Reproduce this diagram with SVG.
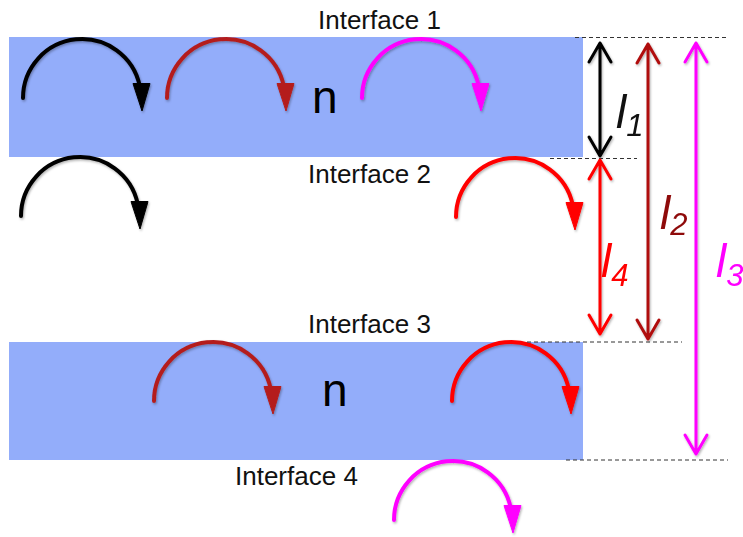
<svg xmlns="http://www.w3.org/2000/svg" xmlns:xlink="http://www.w3.org/1999/xlink" width="743" height="537" viewBox="0 0 743 537">
  <style>
    .slab { fill: #93adfa; }
    .iface { font-family: "Liberation Sans", Arial, sans-serif; font-size: 26px; fill: #111; }
    .n { font-family: "Liberation Sans", Arial, sans-serif; font-size: 46px; fill: #000; }
    .lab { font-family: "Liberation Sans", Arial, sans-serif; font-style: italic; font-size: 46px; }
    .sub { font-size: 31px; }
    .dash { stroke: #333; stroke-width: 1; stroke-dasharray: 4 3; fill: none; }
    .dim { stroke-width: 3; fill: none; stroke-linecap: round; stroke-linejoin: round; }
    .arcp { fill: none; stroke: currentColor; stroke-width: 4; stroke-linecap: round; }
    .arch { fill: currentColor; stroke: currentColor; stroke-width: 1; stroke-linejoin: round; }
  </style>
  <defs>
    <filter id="sh" x="-20%" y="-20%" width="140%" height="140%">
      <feDropShadow dx="1" dy="1.5" stdDeviation="1.2" flood-color="#000" flood-opacity="0.3"/>
    </filter>
    <g id="arc">
      <path class="arcp" d="M-59,0 A59,59 0 0 1 57.7,-12.3"/>
      <polygon class="arch" points="51,-14.5 68,-14.5 60,13"/>
    </g>
  </defs>
  <rect width="743" height="537" fill="#fff"/>

  <g id="slab-top"><rect class="slab" x="9" y="37" width="574" height="120"/></g>
  <g id="slab-bottom"><rect class="slab" x="9" y="342" width="574" height="118"/></g>

  <g id="interfaces">
    <text class="iface" x="318" y="29">Interface 1</text>
    <text class="iface" x="308" y="183">Interface 2</text>
    <text class="iface" x="308" y="333">Interface 3</text>
    <text class="iface" x="235" y="485">Interface 4</text>
  </g>

  <g id="index-labels">
    <text class="n" x="312" y="113">n</text>
    <text class="n" x="322" y="406">n</text>
  </g>

  <g id="arcs" filter="url(#sh)">
    <use xlink:href="#arc" transform="translate(82,98)" color="#000000"/>
    <use xlink:href="#arc" transform="translate(226,98)" color="#b41e1e"/>
    <use xlink:href="#arc" transform="translate(421,98)" color="#ff00ff"/>
    <use xlink:href="#arc" transform="translate(80,216)" color="#000000"/>
    <use xlink:href="#arc" transform="translate(515,217)" color="#ff0000"/>
    <use xlink:href="#arc" transform="translate(213,401)" color="#b41e1e"/>
    <use xlink:href="#arc" transform="translate(511,401)" color="#ff0000"/>
    <use xlink:href="#arc" transform="translate(453,520)" color="#ff00ff"/>
  </g>

  <g id="guides">
    <line class="dash" x1="575" y1="37.5" x2="728" y2="37.5"/>
    <line class="dash" x1="550" y1="158.5" x2="637" y2="158.5"/>
    <line class="dash" x1="527" y1="342" x2="682" y2="342"/>
    <line class="dash" x1="566" y1="460" x2="728" y2="460"/>
  </g>

  <g id="connectors" filter="url(#sh)">
    <g id="dim-l1" stroke="#000">
      <path class="dim" d="M600,43 V156 M589,62 L600,43 L611,62 M589,137 L600,156 L611,137"/>
    </g>
    <g id="dim-l4" stroke="#ff0000">
      <path class="dim" d="M600,160 V334 M589,179 L600,160 L611,179 M589,315 L600,334 L611,315"/>
    </g>
    <g id="dim-l2" stroke="#b00f0f">
      <path class="dim" d="M648,44 V339 M637,63 L648,44 L659,63 M637,320 L648,339 L659,320"/>
    </g>
    <g id="dim-l3" stroke="#ff00ff">
      <path class="dim" d="M696,43 V454 M685,62 L696,43 L707,62 M685,435 L696,454 L707,435"/>
    </g>
  </g>

  <g id="dim-labels">
    <text class="lab" x="616" y="128" fill="#111">l<tspan class="sub" dy="8">1</tspan></text>
    <text class="lab" x="660" y="229" fill="#8e0a0a">l<tspan class="sub" dy="6">2</tspan></text>
    <text class="lab" x="601" y="277" fill="#ff0000">l<tspan class="sub" dy="9">4</tspan></text>
    <text class="lab" x="716" y="277" fill="#ff00ff">l<tspan class="sub" dy="9">3</tspan></text>
  </g>
</svg>
